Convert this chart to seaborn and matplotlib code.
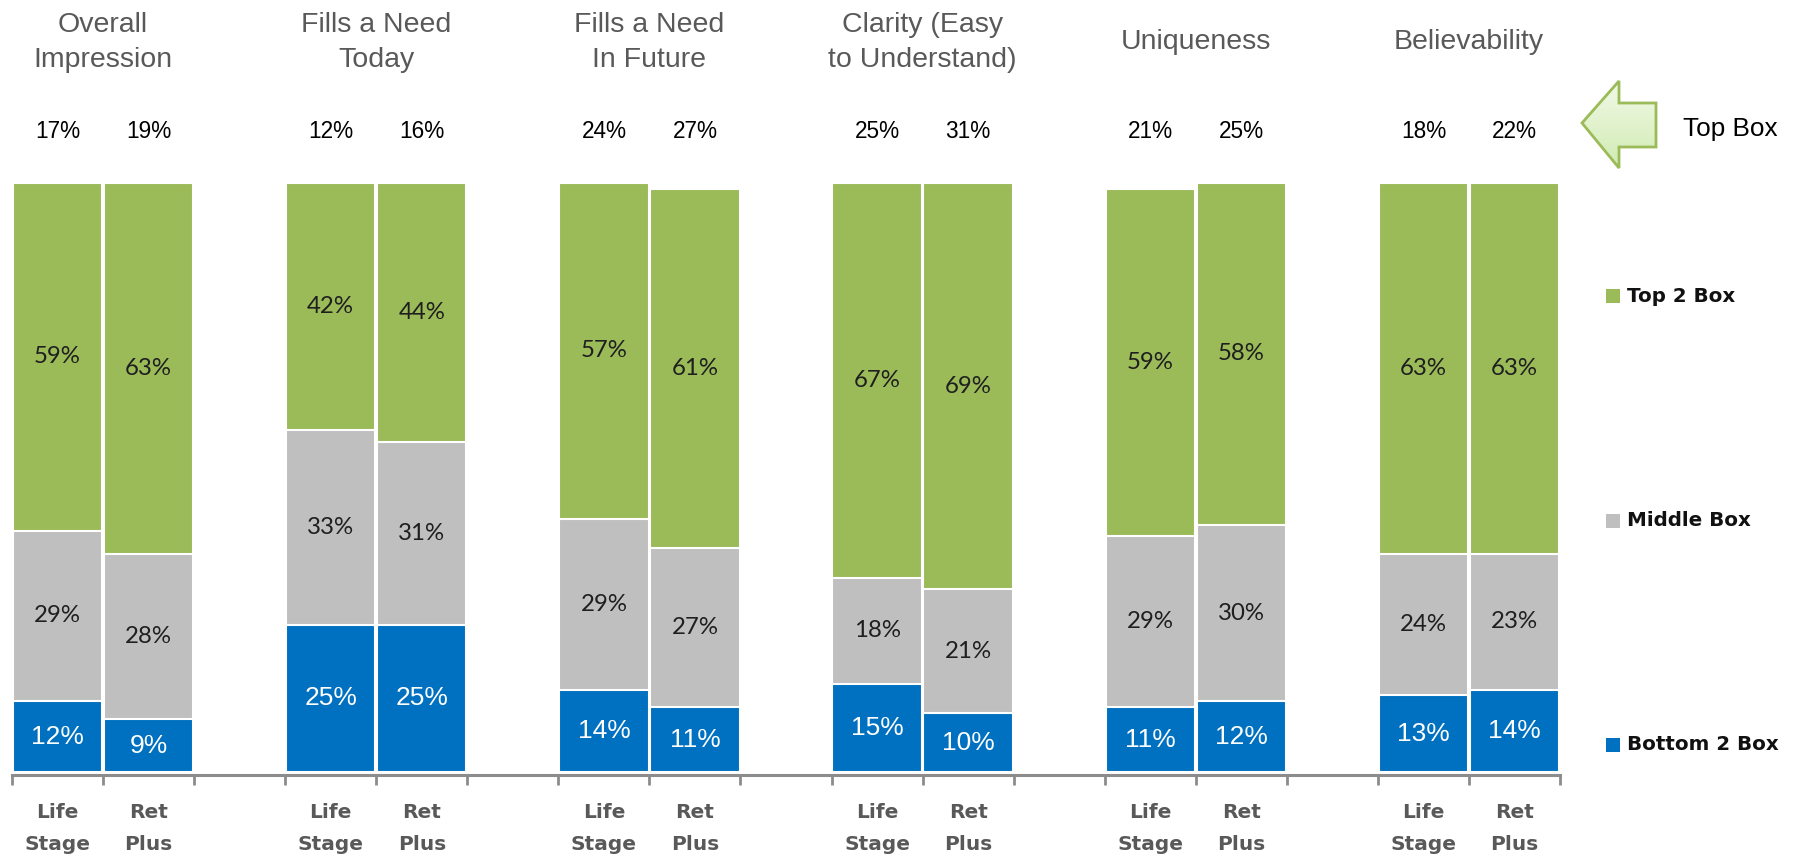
import numpy as np
import pandas as pd
import matplotlib
matplotlib.use("Agg")
import matplotlib.pyplot as plt
import matplotlib.transforms as mtransforms
from matplotlib.colors import LinearSegmentedColormap
from matplotlib.patches import Polygon, Rectangle
import seaborn as sns

# ---- data -------------------------------------------------------------
categories = ["Overall\nImpression", "Fills a Need\nToday", "Fills a Need\nIn Future",
              "Clarity (Easy\nto Understand)", "Uniqueness", "Believability"]
segments = ["Life\nStage", "Ret\nPlus"]

top_box_life = [17, 12, 24, 25, 21, 18]
top_box_ret = [19, 16, 27, 31, 25, 22]
top2_life = [59, 42, 57, 67, 59, 63]
top2_ret = [63, 44, 61, 69, 58, 63]
middle_life = [29, 33, 29, 18, 29, 24]
middle_ret = [28, 31, 27, 21, 30, 23]
bottom_life = [12, 25, 14, 15, 11, 13]
bottom_ret = [9, 25, 11, 10, 12, 14]

legend_labels = ["Top 2 Box", "Middle Box", "Bottom 2 Box"]
callout_label = "Top Box"

# ---- styling ----------------------------------------------------------
GREEN = "#9BBB59"
GREY = "#BFBFBF"
BLUE = "#0070C0"
AXIS_GREY = "#8C8C8C"
TITLE_GREY = "#595959"
BOLD_FAMILY = "DejaVu Sans"

sns.set_theme(style="white")
plt.rcParams["font.family"] = ["Liberation Sans", "DejaVu Sans"]

# ---- long table: one row per bar, with an empty slot between groups ----
rows = []
order = []
for i, cat in enumerate(categories):
    for j, (seg, tb, t2, mid, bot) in enumerate(zip(
            segments,
            (top_box_life[i], top_box_ret[i]),
            (top2_life[i], top2_ret[i]),
            (middle_life[i], middle_ret[i]),
            (bottom_life[i], bottom_ret[i]))):
        slot = f"{i}-{j}"
        order.append(slot)
        rows.append(dict(slot=slot, category=cat, segment=seg, top_box=tb,
                         top2=t2, middle=mid, bottom=bot))
    if i < len(categories) - 1:
        order.append(f"{i}-gap")

df = pd.DataFrame(rows)
df["cum_mid"] = df["bottom"] + df["middle"]
df["cum_top"] = df["cum_mid"] + df["top2"]
df["pos"] = df["slot"].map({s: k for k, s in enumerate(order)})

# ---- figure -----------------------------------------------------------
W, H = 1798, 861
fig = plt.figure(figsize=(W / 100, H / 100), dpi=100)
ax = fig.add_axes([12 / W, 1 - 775 / H, 1548 / W, (775 - 183) / H])


def fy(py):
    """figure fraction from a pixel row measured from the top"""
    return 1 - py / H


def fx(px):
    return px / W


bar_kw = dict(x="slot", order=order, width=0.98, edgecolor="white",
              linewidth=1.5, saturation=1, errorbar=None, ax=ax)
sns.barplot(data=df, y="cum_top", color=GREEN, **bar_kw)
sns.barplot(data=df, y="cum_mid", color=GREY, **bar_kw)
sns.barplot(data=df, y="bottom", color=BLUE, **bar_kw)

ax.set_xlim(-0.5, len(order) - 0.5)
ax.set_ylim(-0.5, 100)
ax.set_xlabel("")
ax.set_ylabel("")
ax.set_yticks([])
for side in ("top", "right", "left"):
    ax.spines[side].set_visible(False)
ax.spines["bottom"].set_color(AXIS_GREY)
ax.spines["bottom"].set_linewidth(2.2)

ax.set_xticks([-0.5] + list(np.arange(len(order)) + 0.5))
ax.set_xticklabels([])
ax.tick_params(axis="x", which="both", length=7, width=2, color=AXIS_GREY,
               direction="out", bottom=True)

# segment values inside the bars
for _, r in df.iterrows():
    x = r["pos"]
    ax.text(x, r["bottom"] / 2, f"{r['bottom']}%", ha="center", va="center",
            color="white", fontsize=19, family="Liberation Sans")
    ax.text(x, r["bottom"] + r["middle"] / 2, f"{r['middle']}%", ha="center",
            va="center", color="#1F1F1F", fontsize=17.3, family="Lato")
    ax.text(x, r["cum_mid"] + r["top2"] / 2, f"{r['top2']}%", ha="center",
            va="center", color="#1F1F1F", fontsize=17.3, family="Lato")

# group titles, top box values, bar labels
blend = mtransforms.blended_transform_factory(ax.transData, fig.transFigure)

for i, cat in enumerate(categories):
    xc = df.loc[df["category"] == cat, "pos"].mean()
    lines = cat.split("\n")
    ys = [25, 60] if len(lines) == 2 else [42]
    for line, py in zip(lines, ys):
        ax.text(xc, fy(py), line, transform=blend, ha="center", va="center",
                fontsize=20.5, color=TITLE_GREY)

for _, r in df.iterrows():
    ax.text(r["pos"], fy(131), f"{r['top_box']}%", transform=blend,
            ha="center", va="center", fontsize=16.3, color="black")
    l1, l2 = r["segment"].split("\n")
    for line, py in ((l1, 812), (l2, 845)):
        ax.text(r["pos"], fy(py), line, transform=blend, ha="center",
                va="center", fontsize=14.5, fontweight="bold",
                color=TITLE_GREY, family=BOLD_FAMILY)

# legend on the right
for lab, col, py in zip(legend_labels, [GREEN, GREY, BLUE], [296, 521, 745]):
    fig.patches.append(Rectangle((fx(1606), fy(py + 7)), 14 / W, 14 / H,
                                 transform=fig.transFigure, facecolor=col,
                                 edgecolor="none"))
    fig.text(fx(1627), fy(py), lab, ha="left", va="center", fontsize=14.3,
             fontweight="bold", color="#111111", family=BOLD_FAMILY)

# left-pointing callout arrow with a soft green gradient
arrow_px = [(1582, 123), (1619, 81), (1619, 103), (1656, 103),
            (1656, 147), (1619, 147), (1619, 168)]
x0, x1, y0, y1 = 1578, 1660, 77, 172
aax = fig.add_axes([fx(x0), fy(y1), (x1 - x0) / W, (y1 - y0) / H])
aax.set_xlim(x0, x1)
aax.set_ylim(y1, y0)
aax.axis("off")
grad = np.linspace(0, 1, 64)[:, None]
cmap = LinearSegmentedColormap.from_list("callout", ["#F3FAEA", "#CFEAB0"])
img = aax.imshow(grad, cmap=cmap, extent=[x0, x1, y1, y0], aspect="auto")
poly = Polygon(arrow_px, closed=True, facecolor="none", edgecolor=GREEN,
               linewidth=2)
aax.add_patch(poly)
img.set_clip_path(poly)
fig.text(fx(1730), fy(129), callout_label, ha="center", va="center",
         fontsize=18.8, color="black")

fig.savefig("out.png", dpi=100)
